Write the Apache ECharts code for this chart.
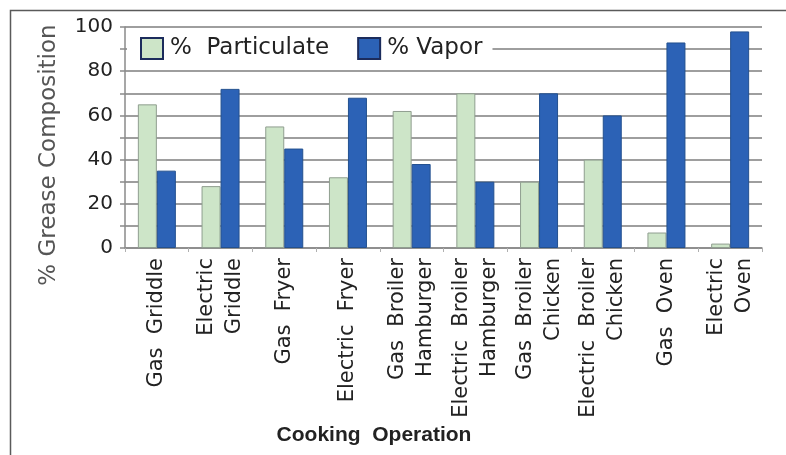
<!DOCTYPE html>
<html>
<head>
<meta charset="utf-8">
<script src="https://cdn.jsdelivr.net/npm/echarts@6/dist/echarts.min.js"></script>
<style>
  html, body { margin: 0; padding: 0; background: #fff; }
  #chart { width: 786px; height: 455px; }
</style>
</head>
<body>
<div id="chart"></div>
<script>
// Cooking operations (line breaks as shown under the axis)
const categories = [
  'Gas  Griddle',
  'Electric\nGriddle',
  'Gas  Fryer',
  'Electric  Fryer',
  'Gas  Broiler\nHamburger',
  'Electric  Broiler\nHamburger',
  'Gas  Broiler\nChicken',
  'Electric  Broiler\nChicken',
  'Gas  Oven',
  'Electric\nOven'
];

// Share of grease emitted as particulate vs. vapor (%)
const particulate = [65, 28, 55, 32, 62, 70, 30, 40, 7, 2];
const vapor       = [35, 72, 45, 68, 38, 30, 70, 60, 93, 98];

const seriesNames = ['%  Particulate', '% Vapor'];
const yTicks = { min: 0, max: 100, step: 10, labelEvery: 20 };

const chart = echarts.init(document.getElementById('chart'), null, { renderer: 'canvas' });

const font = 'DejaVu Sans';

chart.setOption({
  animation: false,
  backgroundColor: '#ffffff',
  grid: { left: 125, right: 24, top: 27, bottom: 207, containLabel: false },
  legend: {
    left: 127,
    top: 31,
    padding: [6, 10, 6, 13],
    backgroundColor: '#ffffff',
    itemWidth: 22,
    itemHeight: 21,
    itemGap: 28,
    icon: 'rect',
    itemStyle: { borderColor: '#1c2c5c', borderWidth: 2 },
    textStyle: { fontFamily: font, fontSize: 23, color: '#222', padding: [0, 0, 0, 2] },
    data: seriesNames
  },
  xAxis: {
    type: 'category',
    data: categories,
    axisLine: { lineStyle: { color: '#8a8a8a', width: 1.5 } },
    axisTick: { show: true, length: 4, lineStyle: { color: '#b0b0b0' } },
    axisLabel: {
      rotate: 90,
      margin: 10,
      fontFamily: font,
      fontSize: 21,
      lineHeight: 28,
      color: '#222',
      interval: 0
    }
  },
  yAxis: {
    type: 'value',
    min: yTicks.min,
    max: yTicks.max,
    interval: yTicks.step,
    axisLine: { show: true, lineStyle: { color: '#8a8a8a', width: 1.5 } },
    axisTick: { show: true, length: 5, lineStyle: { color: '#8a8a8a', width: 1.5 } },
    axisLabel: {
      margin: 12,
      fontFamily: font,
      fontSize: 20,
      color: '#222',
      formatter: v => (v % yTicks.labelEvery === 0 ? String(v) : '')
    },
    splitLine: { show: true, lineStyle: { color: '#7e7e7e', width: 1.5 } }
  },
  series: [
    {
      name: seriesNames[0],
      type: 'bar',
      data: particulate,
      barWidth: 19,
      barGap: '0%',
      itemStyle: { color: '#cde5c8', borderColor: '#8f9e8f', borderWidth: 1 }
    },
    {
      name: seriesNames[1],
      type: 'bar',
      data: vapor,
      barWidth: 19,
      barGap: '0%',
      itemStyle: { color: '#2c62b6', borderColor: '#23508f', borderWidth: 1 }
    }
  ],
  graphic: [
    {
      type: 'rect',
      shape: { x: 10.5, y: 10.5, width: 900, height: 600 },
      style: { fill: null, stroke: '#5a5a5a', lineWidth: 1.5 },
      silent: true,
      z: 100
    },
    {
      type: 'text',
      x: 49,
      y: 155,
      rotation: Math.PI / 2,
      style: {
        text: '% Grease Composition',
        font: '23px "DejaVu Sans"',
        fill: '#555',
        align: 'center',
        verticalAlign: 'middle'
      }
    },
    {
      type: 'text',
      x: 374,
      y: 435,
      style: {
        text: 'Cooking  Operation',
        font: 'bold 21px "Liberation Sans"',
        fill: '#222',
        align: 'center',
        verticalAlign: 'middle'
      }
    }
  ]
});
</script>
</body>
</html>
